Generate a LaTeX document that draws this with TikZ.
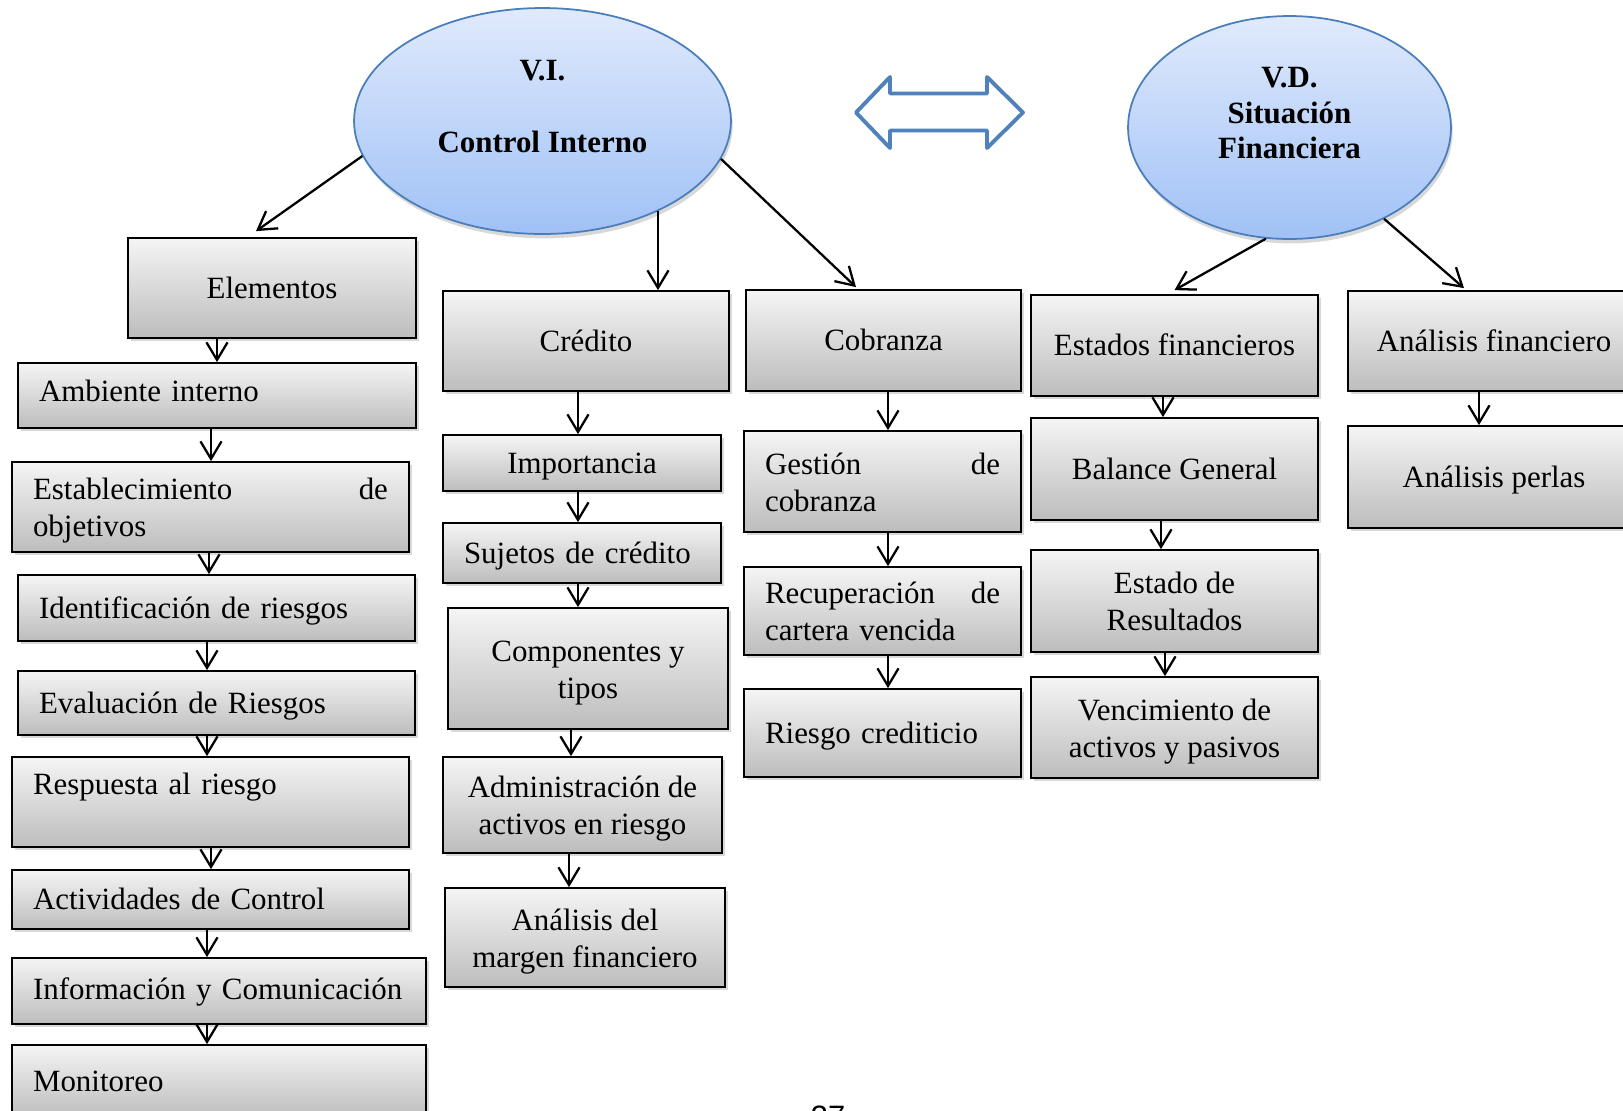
\documentclass[tikz,border=0pt]{standalone}
\usepackage{fontspec}
\setmainfont{Liberation Serif}
\newfontfamily\pagenumfont{Liberation Sans}
\usetikzlibrary{arrows.meta,shadows,shapes.geometric}
\definecolor{ellline}{HTML}{4A7EBB}
\definecolor{elltop}{HTML}{E0EAFC}
\definecolor{ellbot}{HTML}{A0C1F6}
\definecolor{dblblue}{HTML}{4F81BD}
\newcommand\mkbox[6]{\node[bx,#6,minimum width={(#4-#2)*0.02cm},minimum height={(#5-#3)*0.02cm}] (#1) at ({(#2+#4)/2},{(#3+#5)/2})}
\newcommand\topstrutx{\rule{0pt}{0.6cm}}
\newcommand\botstrutx{\rule[-0.15cm]{0pt}{0.15cm}}
\newcommand\elltopstrut{\rule{0pt}{0.54cm}}
\begin{document}
\begin{tikzpicture}[x=0.02cm,y=-0.02cm,
  txtfont/.style={font=\fontsize{17.6}{21}\selectfont},
  bx/.style={draw=black,line width=1pt,top color=black!4,bottom color=black!26,
     drop shadow={shadow xshift=1.8pt,shadow yshift=-1.8pt,opacity=0.3},
     inner sep=0pt,txtfont},
  ctr/.style={align=center},
  one/.style={text height=0.56cm,text depth=#1},
  one/.default=0.15cm,
  lft/.style={align=left,inner xsep=0.42cm,text width=#1},
  ell/.style={ellipse,draw=ellline,line width=1pt,top color=elltop,bottom color=ellbot,
     drop shadow={shadow xshift=1pt,shadow yshift=-2.5pt,opacity=0.3},inner sep=0pt,
     font=\fontsize{17.6}{20.4}\selectfont\bfseries,align=center},
  arr/.style={line width=1.3pt,-{Straight Barb[length=10pt,width=12pt]}}
]
\useasboundingbox (0,0) rectangle (1623,1110);
\fill[white] (0,0) rectangle (1623,1110);

% ellipses
\node[ell,minimum width=7.54cm,minimum height=4.52cm] (VI) at (542.5,121) {\elltopstrut V.I.\\[0.72cm]Control Interno\\\mbox{}};
\node[ell,minimum width=6.46cm,minimum height=4.46cm] (VD) at (1289.5,127.5) {\elltopstrut V.D.\\Situación\\Financiera\\\mbox{}};

% double arrow
\draw[dblblue,line width=2.2pt,fill=white,line join=round]
  (856,112.5) -- (890,77) -- (890,93.5) -- (987,93.5) -- (987,77) -- (1023,112.5)
  -- (987,148) -- (987,130.5) -- (890,130.5) -- (890,148) -- cycle;

% column 1
\mkbox{elem}{128}{238}{416}{338}{ctr,one}{Elementos};
\mkbox{amb}{18}{363}{416}{428}{lft=7.12cm,one=0.33cm}{Ambiente interno};
\mkbox{est}{12}{462}{409}{552}{lft=7.10cm}{\topstrutx Establecimiento\hfill de\\objetivos\botstrutx};
\mkbox{ident}{18}{575}{415}{641}{lft=7.10cm,one}{Identificación de riesgos};
\mkbox{evalr}{18}{671}{415}{735}{lft=7.10cm,one}{Evaluación de Riesgos};
\mkbox{resp}{12}{757}{409}{847}{lft=7.10cm}{Respuesta al riesgo\\\mbox{}};
\mkbox{activ}{12}{870}{409}{929}{lft=7.10cm,one}{Actividades de Control};
\mkbox{info}{12}{958}{426}{1024}{lft=7.44cm,one=0.21cm}{Información y Comunicación};
\mkbox{monit}{12}{1045}{426}{1118}{lft=7.44cm,one}{Monitoreo};

% column 2
\mkbox{cred}{443}{291}{729}{391}{ctr,one}{Crédito};
\mkbox{impo}{443}{435}{721}{491}{ctr,one}{Importancia};
\mkbox{suje}{443}{523}{721}{583}{lft=4.72cm,one}{Sujetos de crédito};
\mkbox{comp}{448}{608}{728}{729}{ctr}{\topstrutx Componentes y\\tipos\botstrutx};
\mkbox{admin}{443}{757}{722}{853}{ctr}{\topstrutx Administración de\\activos en riesgo\botstrutx};
\mkbox{amarg}{445}{888}{725}{987}{ctr}{\topstrutx Análisis del\\margen financiero\botstrutx};

% column 3
\mkbox{cobr}{746}{290}{1021}{391}{ctr,one}{Cobranza};
\mkbox{gest}{744}{431}{1021}{532}{lft=4.70cm}{\topstrutx Gestión\hfill de\\cobranza\botstrutx};
\mkbox{recu}{744}{567}{1021}{655}{lft=4.70cm}{\topstrutx Recuperación\hfill de\\cartera vencida\botstrutx};
\mkbox{riesgo}{744}{689}{1021}{777}{lft=4.70cm,one}{Riesgo crediticio};

% column 4
\mkbox{estf}{1031}{295}{1318}{396}{ctr,one}{Estados financieros};
\mkbox{bal}{1031}{418}{1318}{520}{ctr,one}{Balance General};
\mkbox{estr}{1031}{550}{1318}{652}{ctr}{\topstrutx Estado de\\Resultados\botstrutx};
\mkbox{venc}{1031}{677}{1318}{778}{ctr}{\topstrutx Vencimiento de\\activos y pasivos\botstrutx};

% column 5
\mkbox{afin}{1348}{291}{1640}{391}{ctr,one}{Análisis financiero};
\mkbox{aper}{1348}{426}{1640}{528}{ctr,one}{Análisis perlas};

% page number (cut off by the page edge, as in the reference)
\node[font=\pagenumfont\fontsize{17.6}{20}\selectfont,anchor=north,inner sep=0pt] (pnum) at (828,1106) {37};

% connectors from ellipses
\draw[arr] (VI.191) -- ([shift={(-0.32cm,0.12cm)}]elem.north);
\draw[arr] (VI.322) -- (VI.322 |- cred.north);
\draw[arr] (VI.348) -- ([shift={(-0.55cm,0.04cm)}]cobr.north);
\draw[arr] (VD.258) -- ([yshift=0.08cm]estf.north);
\draw[arr] (VD.316) -- ([shift={(-0.6cm,0.04cm)}]afin.north);

% column 1 arrows
\draw[arr] (elem.south -| 217,0) -- (amb.north -| 217,0);
\draw[arr] (amb.south -| 211,0) -- (est.north -| 211,0);
\draw[arr] (est.south -| 209,0) -- (ident.north -| 209,0);
\draw[arr] (ident.south -| 207,0) -- (evalr.north -| 207,0);
\draw[arr] (evalr.south -| 207,0) -- (resp.north -| 207,0);
\draw[arr] (resp.south -| 211,0) -- (activ.north -| 211,0);
\draw[arr] (activ.south -| 207,0) -- (info.north -| 207,0);
\draw[arr] (info.south -| 207,0) -- (monit.north -| 207,0);

% column 2 arrows
\draw[arr] (cred.south -| 578,0) -- (impo.north -| 578,0);
\draw[arr] (impo.south -| 578,0) -- (suje.north -| 578,0);
\draw[arr] (suje.south -| 578,0) -- (comp.north -| 578,0);
\draw[arr] (comp.south -| 571,0) -- (admin.north -| 571,0);
\draw[arr] (admin.south -| 569,0) -- (amarg.north -| 569,0);

% column 3 arrows
\draw[arr] (cobr.south -| 888,0) -- (gest.north -| 888,0);
\draw[arr] (gest.south -| 888,0) -- (recu.north -| 888,0);
\draw[arr] (recu.south -| 888,0) -- (riesgo.north -| 888,0);

% column 4 arrows
\draw[arr] (estf.south -| 1163,0) -- (bal.north -| 1163,0);
\draw[arr] (bal.south -| 1161,0) -- (estr.north -| 1161,0);
\draw[arr] (estr.south -| 1165,0) -- (venc.north -| 1165,0);

% column 5 arrow
\draw[arr] (afin.south -| 1479,0) -- (aper.north -| 1479,0);
\end{tikzpicture}
\end{document}
